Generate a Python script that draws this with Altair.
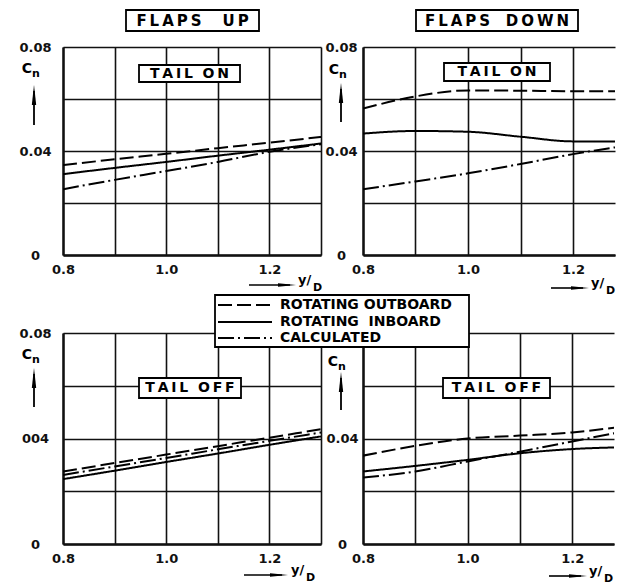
import altair as alt
import pandas as pd

# ---------------- data ----------------
X_VALUES = [0.8, 0.9, 1.0, 1.1, 1.2, 1.3]
SERIES = ["ROTATING OUTBOARD", "ROTATING INBOARD", "CALCULATED"]
X_TICKS = [0.8, 0.9, 1.0, 1.1, 1.2, 1.3]
Y_TICKS = [0.0, 0.02, 0.04, 0.06, 0.08]

# flaps up, tail on
UP_ON_OUTBOARD = [0.0346, 0.0368, 0.0389, 0.0411, 0.0432, 0.0454]
UP_ON_INBOARD = [0.0311, 0.0335, 0.0358, 0.0382, 0.0405, 0.0429]
UP_ON_CALCULATED = [0.0253, 0.0289, 0.0323, 0.0358, 0.0397, 0.0426]

# flaps down, tail on
DOWN_ON_OUTBOARD = [0.0563, 0.0610, 0.0633, 0.0632, 0.0630, 0.0630]
DOWN_ON_INBOARD = [0.0467, 0.0477, 0.0474, 0.0455, 0.0437, 0.0437]
DOWN_ON_CALCULATED = [0.0253, 0.0283, 0.0314, 0.0350, 0.0388, 0.0420]

# flaps up, tail off
UP_OFF_OUTBOARD = [0.0275, 0.0307, 0.0339, 0.0371, 0.0403, 0.0435]
UP_OFF_INBOARD = [0.0246, 0.0278, 0.0311, 0.0343, 0.0376, 0.0408]
UP_OFF_CALCULATED = [0.0262, 0.0294, 0.0326, 0.0359, 0.0391, 0.0423]

# flaps down, tail off
DOWN_OFF_OUTBOARD = [0.0335, 0.0372, 0.0400, 0.0411, 0.0423, 0.0446]
DOWN_OFF_INBOARD = [0.0275, 0.0296, 0.0319, 0.0344, 0.0360, 0.0367]
DOWN_OFF_CALCULATED = [0.0252, 0.0275, 0.0313, 0.0350, 0.0389, 0.0427]

FONT = "DejaVu Sans"
TS = "\u2009"   # thin space for letter spacing
NB = "\u00a0"

DASHES = [[14, 5], [1, 0], [16, 4, 2, 4]]
DUMMY = alt.Data(values=[{"k": 0}])

ARROW_UP = "M0,-1L0.22,1L-0.22,1Z"
ARROW_RIGHT = "M1,0L-1,0.2L-1,-0.2Z"


def spaced(word):
    return TS.join(list(word))


def panel_df(out, inb, calc):
    rows = []
    for s, vals in zip(SERIES, [out, inb, calc]):
        for x, v in zip(X_VALUES, vals):
            rows.append({"series": s, "yd": x, "cn": v})
    return pd.DataFrame(rows)


def box(x1, x2, y1, y2, sw=1.8):
    return alt.Chart(DUMMY).mark_rect(fill="white", stroke="black", strokeWidth=sw).encode(
        x=alt.value(x1), x2=alt.value(x2), y=alt.value(y1), y2=alt.value(y2))


def txt(x, y, s, size, align="center", baseline="middle", weight="bold"):
    return alt.Chart(DUMMY).mark_text(font=FONT, fontSize=size, align=align, baseline=baseline,
                                      fontWeight=weight, color="black").encode(
        x=alt.value(x), y=alt.value(y), text=alt.value(s))


def hrule(x1, x2, y, sw=1.6, dash=None):
    kw = {}
    if dash is not None:
        kw["strokeDash"] = dash
    return alt.Chart(DUMMY).mark_rule(color="black", strokeWidth=sw, **kw).encode(
        x=alt.value(x1), x2=alt.value(x2), y=alt.value(y))


def vrule(x, y1, y2, sw=1.6):
    return alt.Chart(DUMMY).mark_rule(color="black", strokeWidth=sw).encode(
        x=alt.value(x), y=alt.value(y1), y2=alt.value(y2))


def head(x, y, shape, size):
    return alt.Chart(DUMMY).mark_point(shape=shape, filled=True, color="black", opacity=1,
                                       size=size, strokeWidth=0).encode(
        x=alt.value(x), y=alt.value(y))


def cn_label(cx, cy, ax, atip, abot):
    return [
        txt(cx, cy, "C", 14),
        txt(cx + 9, cy + 5, "n", 11),
        vrule(ax, atip + 6, abot, 1.8),
        head(ax, atip + 10, ARROW_UP, 400),
    ]


def yd_label(x1, x2, y, tx):
    return [
        hrule(x1, x2 - 6, y, 1.6),
        head(x2 - 9, y, ARROW_RIGHT, 324),
        txt(tx, y - 5, "y/", 13, align="left"),
        txt(tx + 15, y + 3, "D", 11, align="left"),
    ]


def panel(df, width, height, xmax, ypad, ylabel_expr, extras):
    xexpr = "round(datum.value*10) % 2 == 0 ? format(datum.value, '.1f') : ''"
    lines = alt.Chart(df).mark_line(color="black", strokeWidth=2, clip=True,
                                    interpolate="monotone").encode(
        x=alt.X("yd:Q", scale=alt.Scale(domain=[0.8, xmax], nice=False, zero=False),
                axis=alt.Axis(values=X_TICKS, labelExpr=xexpr, title=None, labelFlush=False,
                              labelOverlap=False, labelPadding=8, zindex=0)),
        y=alt.Y("cn:Q", scale=alt.Scale(domain=[0, 0.08], nice=False),
                axis=alt.Axis(values=Y_TICKS, labelExpr=ylabel_expr, title=None,
                              labelAlign="center", labelPadding=ypad, labelOverlap=False,
                              labelFlush=False, zindex=0)),
        strokeDash=alt.StrokeDash("series:N", scale=alt.Scale(domain=SERIES, range=DASHES),
                                  legend=None),
        detail="series:N",
    )
    return alt.layer(lines, *extras).properties(width=width, height=height)


YEXPR = "datum.value == 0 ? '0' : (round(datum.value*100) % 4 == 0 ? format(datum.value, '.2f') : '')"
YEXPR_BL = ("datum.value == 0 ? '0' : (round(datum.value*100) == 4 ? '004' : "
            "(round(datum.value*100) == 8 ? '0.08' : ''))")
# the 0.08 label of the lower-right panel is hidden under the legend box in the reference
YEXPR_BR = "datum.value == 0 ? '0' : (round(datum.value*100) == 4 ? '0.04' : '')"

TITLE_UP = spaced("FLAPS") + NB * 4 + spaced("UP")
TITLE_DOWN = spaced("FLAPS") + NB * 3 + spaced("DOWN")
TAIL_ON = spaced("TAIL") + NB * 2 + spaced("ON")
TAIL_OFF = spaced("TAIL") + NB * 2 + spaced("OFF")

# top-left: flaps up, tail on
tl_extras = [
    box(63, 196, -37, -16), txt(129.5, -26.5, TITLE_UP, 15),
    box(76, 177, 18, 35), txt(126.5, 27, TAIL_ON, 14),
] + cn_label(-36, 22, -29, 38, 78) + yd_label(186, 233, 238, 235)
tl = panel(panel_df(UP_ON_OUTBOARD, UP_ON_INBOARD, UP_ON_CALCULATED), 258, 208, 1.3, 28, YEXPR, tl_extras)

# top-right: flaps down, tail on
tr_extras = [
    box(53, 215, -37, -16), txt(134, -26.5, TITLE_DOWN, 15),
    box(81, 187, 16, 34), txt(134, 25, TAIL_ON, 14),
] + cn_label(-29, 23, -22, 36, 75) + yd_label(188, 226, 241, 228)
tr = panel(panel_df(DOWN_ON_OUTBOARD, DOWN_ON_INBOARD, DOWN_ON_CALCULATED), 252, 208, 1.28, 22, YEXPR, tr_extras)

# bottom-left: flaps up, tail off
bl_extras = [
    box(76, 178, 45, 65), txt(127, 55, TAIL_OFF, 14),
] + cn_label(-36, 22, -29, 35, 74) + yd_label(181, 225, 242, 228)
bl = panel(panel_df(UP_OFF_OUTBOARD, UP_OFF_INBOARD, UP_OFF_CALCULATED), 258, 211, 1.3, 28, YEXPR_BL, bl_extras)

# bottom-right: flaps down, tail off (+ legend box)
br_extras = [
    box(80, 187, 45, 65), txt(133.5, 55, TAIL_OFF, 14),
] + cn_label(-30, 29, -22, 39, 77) + yd_label(186, 224, 243, 226) + [
    box(-148, 106, -38, 14),
    hrule(-145, -91, -28, 1.8, DASHES[0]), txt(-83, -28, "ROTATING OUTBOARD", 14, align="left"),
    hrule(-145, -91, -11, 1.8), txt(-83, -11, "ROTATING" + NB * 2 + "INBOARD", 14, align="left"),
    hrule(-145, -91, 5, 1.8, DASHES[2]), txt(-83, 5, "CALCULATED", 14, align="left"),
]
br = panel(panel_df(DOWN_OFF_OUTBOARD, DOWN_OFF_INBOARD, DOWN_OFF_CALCULATED), 251, 211, 1.28, 21, YEXPR_BR, br_extras)

chart = alt.concat(tl, tr, bl, br, columns=2, spacing={"row": 78, "column": 42}, bounds="flush").properties(
    padding={"left": 10, "top": 1, "right": 0, "bottom": 0},
    background="white",
).configure_view(stroke=None).configure_axis(
    grid=True, gridColor="#111111", gridWidth=1.6, gridOpacity=1,
    domain=True, domainColor="#111111", domainWidth=2.4,
    ticks=False, labelFont=FONT, labelFontSize=13, labelFontWeight="bold", labelColor="#111111",
)

chart.save("out.html", embed_options={"renderer": "svg", "actions": False})
